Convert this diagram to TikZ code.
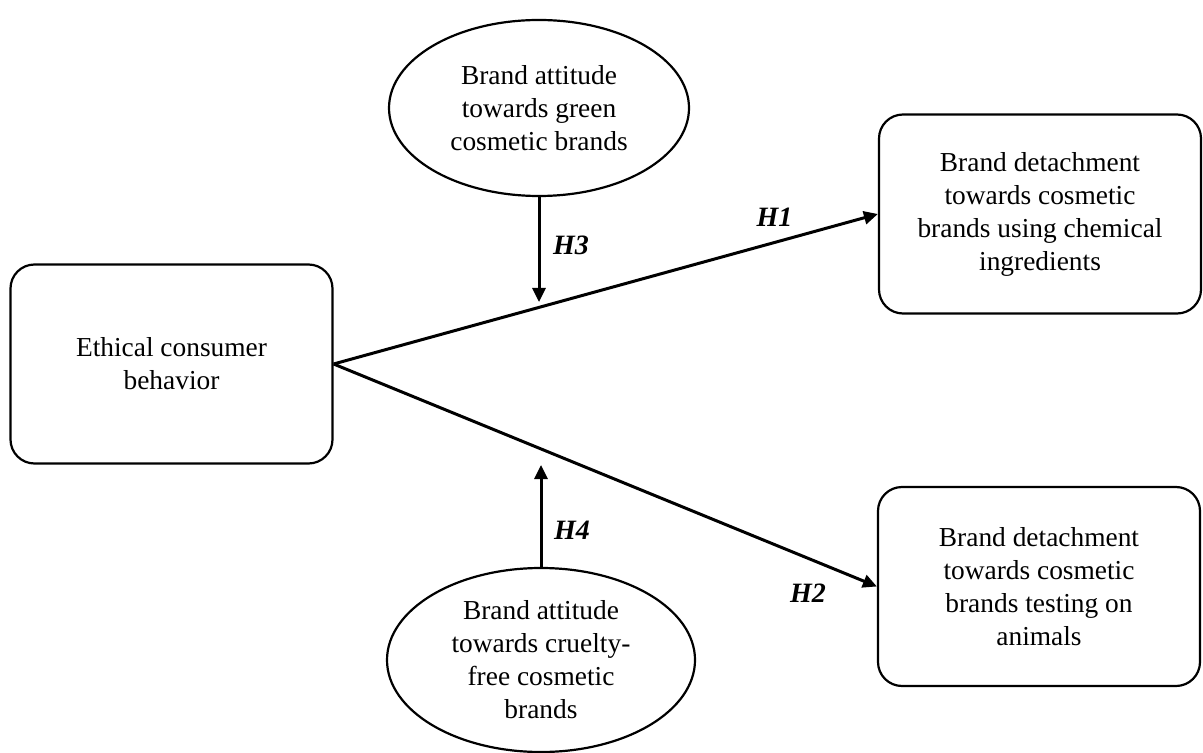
\documentclass[tikz,border=0pt]{standalone}
\usepackage{fontspec}
\setmainfont{Liberation Serif}
\usetikzlibrary{arrows.meta,%
	shapes.geometric,%
	positioning}

\begin{document}
\begin{tikzpicture}[x = 0.5pt, y = -0.5pt, box/.style = {draw, line width = 1.1pt, rounded corners = 12pt, minimum width = 161pt, minimum height = 99.5pt, align = center, font = \fontsize{13.7}{16.5}\selectfont}, oval/.style = {draw, ellipse, line width = 1.1pt, inner sep = 0pt, align = center, font = \fontsize{13.7}{16.5}\selectfont}, hyp/.style = {font = \fontsize{14}{16}\selectfont\bfseries\itshape}, link/.style = {line width = 1.5pt, -{Triangle[length = 7pt, width = 6.5pt]}}]
	\useasboundingbox (0,0) rectangle (1203,753);
	\node[box] (E) at (171.5,364) {Ethical consumer\\behavior};
	\node[box] (C) at (1040,214) {Brand detachment\\towards cosmetic\\brands using chemical\\ingredients};
	\node[box] (T) at (1039,586.5) {Brand detachment\\towards cosmetic\\brands testing on\\animals};
	\node[oval, minimum width = 150pt, minimum height = 88pt] (G) at (539,108) {Brand attitude\\towards green\\cosmetic brands};
	\node[oval, minimum width = 154pt, minimum height = 92pt] (F) at (541,660) {Brand attitude\\towards cruelty-\\free cosmetic\\brands};
	\coordinate (g) at (539,302);
	\coordinate (f) at (541,465);
	\draw[link] (E.east) -- node[hyp, pos = 0.81, yshift = 12.8pt] (h1) {H1} (C.west);
	\draw[link] (E.east) -- node[hyp, pos = 0.873, yshift = -17.5pt] (h2) {H2} (T.west);
	\draw[link] (G.south) -- node[hyp, pos = 0.46, xshift = 16pt] (h3) {H3} (g);
	\draw[link] (F.north) -- node[hyp, pos = 0.36, xshift = 15.5pt] (h4) {H4} (f);
\end{tikzpicture}
\end{document}
